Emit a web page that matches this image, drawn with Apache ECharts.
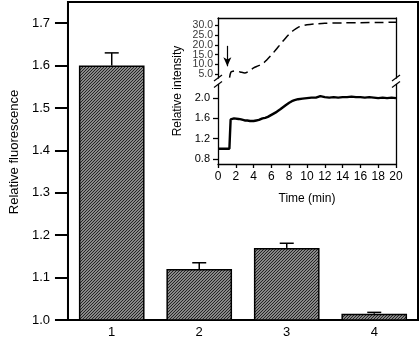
<!DOCTYPE html>
<html>
<head>
<meta charset="utf-8">
<script src="https://cdn.jsdelivr.net/npm/echarts@6/dist/echarts.min.js"></script>
<style>
  html, body { margin: 0; padding: 0; background: #fff; }
  #chart { width: 420px; height: 340px; }
</style>
</head>
<body>
<div id="chart"></div>
<script>
// main bar chart
const groups = ['1', '2', '3', '4']
const fluorescence = [1.6, 1.12, 1.17, 1.015]
const fluorescenceErr = [0.03, 0.015, 0.011, 0.003]
const fluorTicks = [1.0, 1.1, 1.2, 1.3, 1.4, 1.5, 1.6, 1.7]

// inset: time course (min)
const timeTicks = [0, 2, 4, 6, 8, 10, 12, 14, 16, 18, 20]
const upperTicks = [5, 10, 15, 20, 25, 30]
const lowerTicks = [0.8, 1.2, 1.6, 2.0]
const dashedTrace = [
  [1.3, 3.2], [1.45, 6.0], [1.7, 6.5], [2.0, 6.6], [2.5, 6.1], [3.0, 5.6], [3.5, 6.6],
  [4.0, 8.2], [4.5, 9.2], [5.0, 10.2], [5.5, 12.4], [6.0, 14.8], [6.5, 17.5], [7.0, 20.3],
  [7.5, 23.0], [8.0, 25.5], [8.5, 27.5], [9.0, 29.0], [9.5, 29.8], [10, 30.3], [11, 30.8],
  [12, 31.1], [14, 31.3], [16, 31.4], [18, 31.5], [20, 31.6]
]
const solidTrace = [
  [0, 1.0], [0.5, 1.0], [1.0, 1.0], [1.28, 1.0], [1.35, 1.3], [1.42, 1.58], [1.6, 1.61],
  [1.8, 1.6], [2.0, 1.61], [2.3, 1.59], [2.6, 1.58], [3.0, 1.56], [3.3, 1.56], [3.6, 1.55],
  [4.0, 1.55], [4.3, 1.56], [4.6, 1.57], [5.0, 1.6], [5.3, 1.61], [5.6, 1.63], [6.0, 1.67],
  [6.3, 1.7], [6.6, 1.73], [7.0, 1.78], [7.3, 1.82], [7.6, 1.86], [8.0, 1.91], [8.3, 1.94],
  [8.6, 1.96], [9.0, 1.98], [9.5, 1.99], [10, 2.0], [10.5, 2.01], [11, 2.01], [11.5, 2.04],
  [12, 2.02], [12.5, 2.01], [13, 2.02], [13.5, 2.01], [14, 2.02], [14.5, 2.02], [15, 2.03],
  [15.5, 2.02], [16, 2.02], [16.5, 2.01], [17, 2.02], [17.5, 2.01], [18, 2.0], [18.5, 2.01],
  [19, 2.0], [19.5, 2.01], [20, 2.0]
]
const arrowFrom = [1.05, 19.5]
const arrowTo = [1.05, 9.0]

// inset layout
const insetLeft = 218
const insetWidth = 178
const upperTop = 18
const upperHeight = 60
const lowerTop = 84.5
const lowerHeight = 79.5

const font = '"Liberation Sans", Arial, sans-serif'

const hatch = document.createElement('canvas')
hatch.width = 3
hatch.height = 3
const hctx = hatch.getContext('2d')
hctx.fillStyle = '#b4b4b4'
hctx.fillRect(0, 0, 3, 3)
hctx.strokeStyle = '#1e1e1e'
hctx.lineWidth = 1.1
hctx.beginPath()
hctx.moveTo(0, 3); hctx.lineTo(3, 0)
hctx.moveTo(-1, 1); hctx.lineTo(1, -1)
hctx.moveTo(2, 4); hctx.lineTo(4, 2)
hctx.stroke()

const chart = echarts.init(document.getElementById('chart'))

const insetLabel = { color: '#000', fontFamily: font, fontSize: 11 }
const blackLine = { lineStyle: { color: '#000', width: 1.3 } }

const breakMark = (x) => ({
  type: 'group',
  children: [
    { type: 'rect', shape: { x: x - 5, y: upperTop + upperHeight + 0.5, width: 10, height: lowerTop - upperTop - upperHeight - 1 }, style: { fill: '#fff' } },
    { type: 'line', shape: { x1: x - 4, y1: upperTop + upperHeight + 3, x2: x + 4, y2: upperTop + upperHeight - 3 }, style: { stroke: '#000', lineWidth: 1.2 } },
    { type: 'line', shape: { x1: x - 4, y1: lowerTop + 3, x2: x + 4, y2: lowerTop - 3 }, style: { stroke: '#000', lineWidth: 1.2 } }
  ]
})

chart.setOption({
  animation: false,
  backgroundColor: '#fff',
  grid: [
    { left: 62, top: 2, right: 2, bottom: 20, show: true, borderColor: '#000', borderWidth: 2 },
    { left: insetLeft, width: insetWidth, top: upperTop, height: upperHeight },
    { left: insetLeft, width: insetWidth, top: lowerTop, height: lowerHeight }
  ],
  xAxis: [
    {
      type: 'category', gridIndex: 0, data: groups,
      axisLine: { lineStyle: { color: '#000', width: 2 } },
      axisTick: { show: false },
      axisLabel: { color: '#000', fontFamily: font, fontSize: 13, margin: 6 }
    },
    {
      type: 'value', gridIndex: 1, position: 'top', min: 0, max: 20,
      axisLine: { show: true, ...blackLine },
      axisTick: { show: false }, axisLabel: { show: false }, splitLine: { show: false }
    },
    {
      type: 'value', gridIndex: 2, min: 0, max: 20, interval: 2,
      axisLine: { show: true, ...blackLine },
      axisTick: { show: true, length: 4, ...blackLine },
      axisLabel: { ...insetLabel, fontSize: 12, margin: 7, customValues: timeTicks },
      splitLine: { show: false },
      name: 'Time (min)', nameLocation: 'middle', nameGap: 29,
      nameTextStyle: { color: '#000', fontFamily: font, fontSize: 12 }
    }
  ],
  yAxis: [
    {
      type: 'value', gridIndex: 0, min: 1, max: 1.75,
      axisLine: { show: true, lineStyle: { color: '#000', width: 2 } },
      axisTick: { show: true, length: 13, customValues: fluorTicks, lineStyle: { color: '#000', width: 2 } },
      axisLabel: { color: '#000', fontFamily: font, fontSize: 13, margin: 18, customValues: fluorTicks, formatter: v => v.toFixed(1) },
      splitLine: { show: false },
      name: 'Relative fluorescence', nameLocation: 'middle', nameGap: 42,
      nameTextStyle: { color: '#000', fontFamily: font, fontSize: 13, padding: [0, 0, 0, 18] }
    },
    {
      type: 'value', gridIndex: 1, min: 3, max: 33.8,
      axisLine: { show: true, ...blackLine },
      axisTick: { show: true, length: 3, customValues: upperTicks, ...blackLine },
      axisLabel: { show: false },
      splitLine: { show: false }
    },
    {
      type: 'value', gridIndex: 1, position: 'right', min: 3, max: 33.8,
      axisLine: { show: true, ...blackLine },
      axisTick: { show: false }, axisLabel: { show: false }, splitLine: { show: false }
    },
    {
      type: 'value', gridIndex: 2, min: 0.7, max: 2.27,
      axisLine: { show: true, ...blackLine },
      axisTick: { show: true, length: 5, customValues: lowerTicks, ...blackLine },
      axisLabel: { ...insetLabel, margin: 8, customValues: lowerTicks, formatter: v => v.toFixed(1) },
      splitLine: { show: false }
    },
    {
      type: 'value', gridIndex: 2, position: 'right', min: 0.7, max: 2.27,
      axisLine: { show: true, ...blackLine },
      axisTick: { show: false }, axisLabel: { show: false }, splitLine: { show: false }
    }
  ],
  series: [
    {
      type: 'bar', xAxisIndex: 0, yAxisIndex: 0, data: fluorescence, barWidth: '75%',
      itemStyle: { color: { image: hatch, repeat: 'repeat' }, borderColor: '#000', borderWidth: 1.5 }
    },
    {
      type: 'custom', xAxisIndex: 0, yAxisIndex: 0, z: 3,
      data: groups.map((g, i) => [i, fluorescence[i], fluorescence[i] + fluorescenceErr[i]]),
      renderItem: (params, api) => {
        const base = api.coord([api.value(0), api.value(1)])
        const top = api.coord([api.value(0), api.value(2)])
        const w = 7
        return {
          type: 'group',
          children: [
            { type: 'line', shape: { x1: base[0], y1: base[1], x2: top[0], y2: top[1] }, style: { stroke: '#000', lineWidth: 1.5 } },
            { type: 'line', shape: { x1: top[0] - w, y1: top[1], x2: top[0] + w, y2: top[1] }, style: { stroke: '#000', lineWidth: 1.5 } }
          ]
        }
      }
    },
    {
      // tick labels of the upper (broken) axis, placed at their values
      type: 'scatter', xAxisIndex: 1, yAxisIndex: 1, symbolSize: 0, silent: true,
      data: upperTicks.map(v => [0, v]),
      label: {
        show: true, position: 'left', distance: 5, color: '#000', fontFamily: font, fontSize: 10.5,
        formatter: p => p.value[1].toFixed(1)
      }
    },
    {
      type: 'line', xAxisIndex: 1, yAxisIndex: 1, data: dashedTrace, showSymbol: false, smooth: 0.3,
      lineStyle: { color: '#000', width: 1.5, type: [9, 5] },
      markLine: {
        silent: true, symbol: ['none', 'arrow'], symbolSize: [6, 9], label: { show: false },
        lineStyle: { color: '#000', width: 1.2, type: 'solid' },
        data: [[{ coord: arrowFrom }, { coord: arrowTo }]]
      }
    },
    {
      type: 'line', xAxisIndex: 2, yAxisIndex: 3, data: solidTrace, showSymbol: false,
      lineStyle: { color: '#000', width: 2.4 }
    }
  ],
  graphic: [
    breakMark(insetLeft),
    breakMark(insetLeft + insetWidth),
    {
      type: 'text', x: 178, y: (upperTop + lowerTop + lowerHeight) / 2, rotation: Math.PI / 2,
      style: { text: 'Relative intensity', fill: '#000', font: '12px ' + font, align: 'center', verticalAlign: 'middle' }
    }
  ]
})
</script>
</body>
</html>
